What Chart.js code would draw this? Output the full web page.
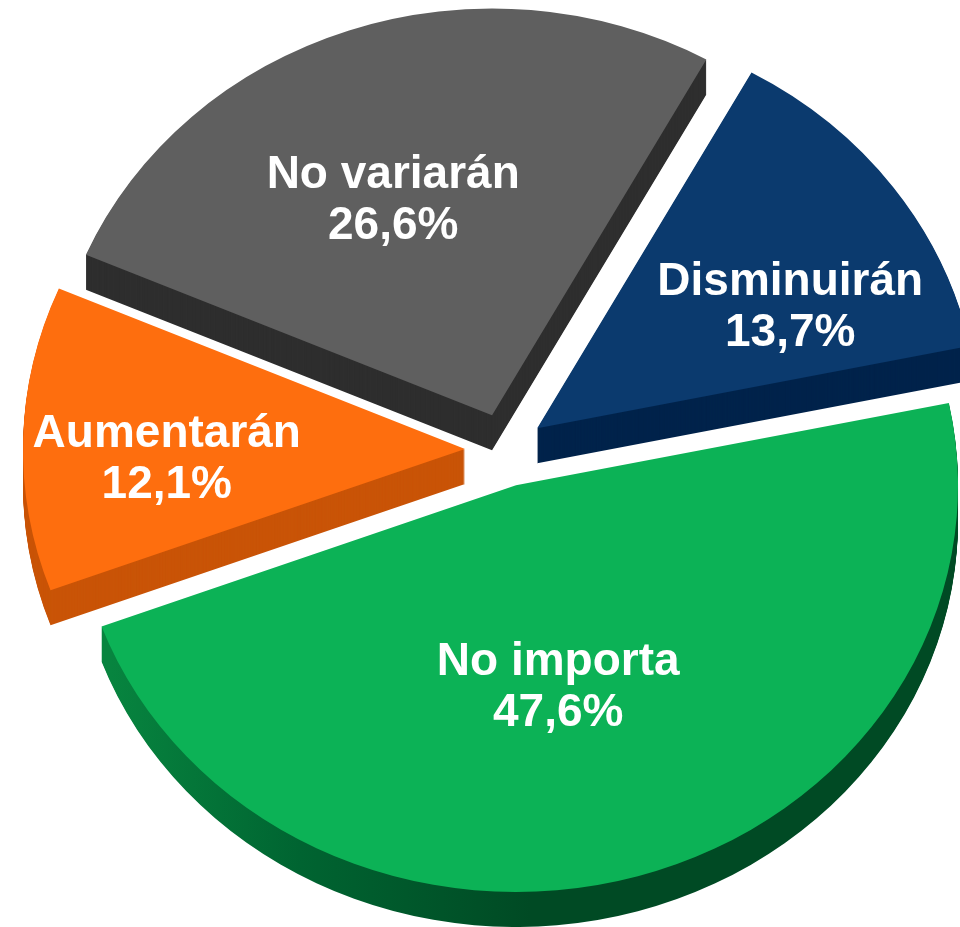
<!DOCTYPE html>
<html><head><meta charset="utf-8">
<script src="https://cdn.jsdelivr.net/npm/chart.js@4.4.1/dist/chart.umd.min.js"></script>
<style>html,body{margin:0;padding:0;background:#fff;} #wrap{width:960px;height:927px;position:relative;}</style>
</head><body><div id="wrap"><canvas id="c"></canvas></div>
<script>
const categories = ['Disminuirán', 'No importa', 'Aumentarán', 'No variarán'];
const values = [13.7, 47.6, 12.1, 26.6];
const valueLabels = ['13,7%', '47,6%', '12,1%', '26,6%'];
const topColors = ['#0b3a6e', '#0cb256', '#fe6e0e', '#5f5f5f'];
const sideColors = ['#00234b', '#00552a', '#c95407', '#2e2e2e'];

// layout / style settings
const CENTER_X = 505, CENTER_Y = 450, TILT = 0.92, DEPTH = 35, EXPLODE = 40, RADIUS = 442;
const labelNudgeDeg = [8.4, 5, -3, -3.8];
const labelRadiusFrac = [0.648, 0.50, 0.675, 0.58];

const pie3d = {
  id: 'pie3d',
  beforeDatasetsDraw(chart) {
    const ctx = chart.ctx;
    const arcs = chart.getDatasetMeta(0).data;
    if (!arcs.length) return false;
    const ox = arcs[0].x, oy = arcs[0].y;
    // green side shading: lighter on the left, darker further round
    const gx = (sx) => sx - CENTER_X + ox;
    const greenSide = ctx.createLinearGradient(gx(100), 0, gx(520), 0);
    greenSide.addColorStop(0, '#07843f');
    greenSide.addColorStop(0.45, '#006431');
    greenSide.addColorStop(1, '#004a24');
    const sides = sideColors.slice();
    sides[1] = greenSide;

    const drawArc = (el, dy, color) => {
      const mid = (el.startAngle + el.endAngle) / 2;
      const orig = el.options;
      ctx.save();
      ctx.translate(Math.cos(mid) * EXPLODE, Math.sin(mid) * EXPLODE + dy);
      if (color) el.options = Object.assign({}, orig, {backgroundColor: color, borderColor: color});
      el.draw(ctx);
      el.options = orig;
      ctx.restore();
    };
    ctx.save();
    ctx.translate(CENTER_X, CENTER_Y);
    ctx.scale(1, TILT);
    ctx.translate(-ox, -oy);
    for (let d = DEPTH; d >= 1; d--) {
      arcs.forEach((el, i) => drawArc(el, d / TILT, sides[i]));
    }
    arcs.forEach((el) => drawArc(el, 0, null));
    ctx.restore();

    ctx.save();
    ctx.fillStyle = '#ffffff';
    ctx.font = 'bold 46px "Liberation Sans", Arial, sans-serif';
    ctx.textAlign = 'center';
    ctx.textBaseline = 'alphabetic';
    arcs.forEach((el, i) => {
      const mid = (el.startAngle + el.endAngle) / 2;
      const a = mid + labelNudgeDeg[i] * Math.PI / 180;
      const r = labelRadiusFrac[i] * el.outerRadius;
      const px = Math.cos(mid) * EXPLODE + Math.cos(a) * r;
      const py = (Math.sin(mid) * EXPLODE + Math.sin(a) * r) * TILT;
      const x = CENTER_X + px, y = CENTER_Y + py;
      ctx.fillText(categories[i], x, y + 16 - 25.5);
      ctx.fillText(valueLabels[i], x, y + 16 + 25.5);
    });
    ctx.restore();
    return false;
  }
};

new Chart(document.getElementById('c'), {
  type: 'pie',
  data: {
    labels: categories,
    datasets: [{
      data: values,
      backgroundColor: topColors,
      borderWidth: 0,
      radius: RADIUS,
      offset: 0,
      hoverOffset: 0,
      clip: false
    }]
  },
  options: {
    responsive: true,
    maintainAspectRatio: false,
    animation: false,
    events: [],
    rotation: 29,
    layout: {padding: 0},
    plugins: {legend: {display: false}, tooltip: {enabled: false}}
  },
  plugins: [pie3d]
});
</script>
</body></html>
